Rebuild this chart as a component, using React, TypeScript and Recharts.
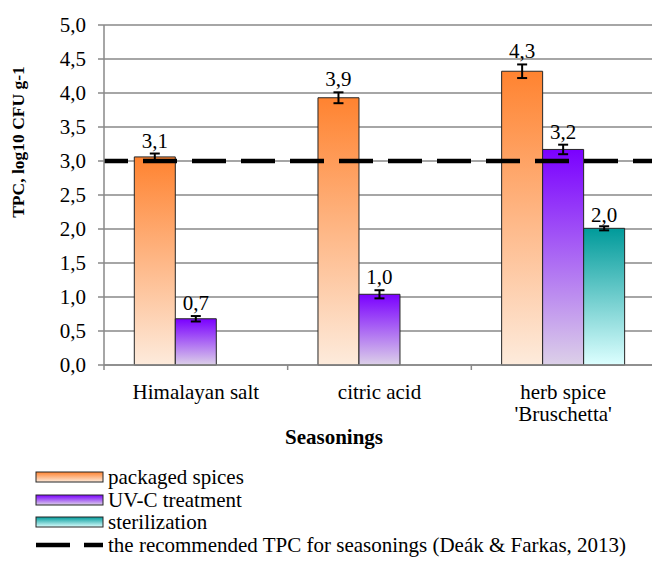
import React from 'react';
import {
  BarChart,
  Bar,
  XAxis,
  YAxis,
  CartesianGrid,
  ReferenceLine,
  ErrorBar,
  LabelList,
  Legend,
} from 'recharts';

// ---------- data ----------
const categories = ['Himalayan salt', 'citric acid', "herb spice\n'Bruschetta'"];
const packagedSpices = [3.06, 3.93, 4.32];
const packagedErr = [0.05, 0.08, 0.1];
const uvcTreatment = [0.68, 1.04, 3.17];
const uvcErr = [0.04, 0.06, 0.07];
const sterilization: (number | null)[] = [null, null, 2.01];
const sterilErr: (number | null)[] = [null, null, 0.03];
const yTicks = [0, 0.5, 1, 1.5, 2, 2.5, 3, 3.5, 4, 4.5, 5];
const yMinorTicks = Array.from({ length: 51 }, (_, i) => i / 10);
const recommendedTPC = 3.0;
const seriesNames = ['packaged spices', 'UV-C treatment', 'sterilization'];
const refName = 'the recommended TPC for seasonings (Deák & Farkas, 2013)';
const yTitle = 'TPC, log10 CFU g-1';
const xTitle = 'Seasonings';

const data = categories.map((c, i) => ({
  name: c,
  packaged: packagedSpices[i],
  packagedErr: packagedErr[i],
  uvc: uvcTreatment[i],
  uvcErr: uvcErr[i],
  steril: sterilization[i],
  sterilErr: sterilErr[i],
}));

// ---------- style / layout ----------
const FONT = "'Liberation Serif', 'Times New Roman', serif";
const W = 655;
const H = 571;
const PLOT_LEFT = 104;
const PLOT_TOP = 25;
const AXIS_Y = 365;
const PLOT_W = W - PLOT_LEFT;
const BAND = PLOT_W / categories.length;
const LEGEND_H = 120;
const XAXIS_H = H - AXIS_Y - LEGEND_H;
const GRAY = '#898989';

const grads = [
  { id: 'gOrange', top: '#FF8330', bottom: '#FDEBDC' },
  { id: 'gPurple', top: '#7A00FF', bottom: '#DCD0E8' },
  { id: 'gTeal', top: '#009A9A', bottom: '#DDFFFF' },
];

const fmt = (v: number) => v.toFixed(1).replace('.', ',');

const makeValueLabel = (errs: (number | null)[]) => (props: any) => {
  const { x, y, width, height, value, index } = props;
  if (value == null) return null;
  const err = errs[index] ?? 0;
  const pxPerUnit = height / value;
  const ty = y - err * pxPerUnit - 6;
  return (
    <text x={x + width / 2} y={ty} textAnchor="middle" fontFamily={FONT} fontSize={21} fill="#000">
      {fmt(value)}
    </text>
  );
};

const XTick = (props: any) => {
  const { x, payload } = props;
  const lines = String(payload.value).split('\n');
  return (
    <g>
      <line x1={x - BAND / 2} x2={x - BAND / 2} y1={AXIS_Y} y2={AXIS_Y + 5} stroke={GRAY} strokeWidth={1.5} />
      <text x={x} y={AXIS_Y} textAnchor="middle" fontFamily={FONT} fontSize={21} fill="#000">
        {lines.map((l, i) => (
          <tspan key={i} x={x} dy={i === 0 ? 34 : 22}>
            {l}
          </tspan>
        ))}
      </text>
    </g>
  );
};

const XTitle = () => (
  <text x={334} y={444} textAnchor="middle" fontFamily={FONT} fontSize={21} fontWeight="bold" fill="#000">
    {xTitle}
  </text>
);

const YTitle = () => (
  <text
    x={24}
    y={142}
    transform="rotate(-90, 24, 142)"
    textAnchor="middle"
    fontFamily={FONT}
    fontSize={17.5}
    fontWeight="bold"
    fill="#000"
  >
    {yTitle}
  </text>
);

const LegendContent = () => {
  const rows = [26, 49, 71, 94];
  return (
    <svg width={W} height={LEGEND_H} style={{ display: 'block' }}>
      <defs>
        {grads.map((g) => (
          <linearGradient key={g.id} id={'lg' + g.id} x1="0" y1="0" x2="0" y2="1">
            <stop offset="0%" stopColor={g.top} />
            <stop offset="100%" stopColor={g.bottom} />
          </linearGradient>
        ))}
      </defs>
      {seriesNames.map((n, i) => (
        <g key={n}>
          <rect x={36} y={rows[i] - 5} width={67} height={10} fill={`url(#lg${grads[i].id})`} stroke="#262626" strokeWidth={1} />
          <text x={108} y={rows[i] + 7} fontFamily={FONT} fontSize={21} fill="#000">
            {n}
          </text>
        </g>
      ))}
      <line x1={36} x2={103} y1={rows[3]} y2={rows[3]} stroke="#000" strokeWidth={4.5} strokeDasharray="34 14" />
      <text x={108} y={rows[3] + 7} fontFamily={FONT} fontSize={21} fill="#000">
        {refName}
      </text>
    </svg>
  );
};

export default function App() {
  return (
    <div style={{ position: 'fixed', left: 0, top: 0, width: 652, height: 571, overflow: 'hidden', background: '#fff' }}>
      <BarChart
        width={W}
        height={H}
        data={data}
        margin={{ top: PLOT_TOP, right: 0, bottom: 0, left: 0 }}
        barCategoryGap="16.5%"
        barGap={0}
        style={{ fontFamily: FONT }}
      >
        <defs>
          {grads.map((g) => (
            <linearGradient key={g.id} id={g.id} x1="0" y1="0" x2="0" y2="1">
              <stop offset="0%" stopColor={g.top} />
              <stop offset="100%" stopColor={g.bottom} />
            </linearGradient>
          ))}
        </defs>
        <CartesianGrid yAxisId="v" vertical={false} stroke={GRAY} strokeWidth={1.5} />
        <XAxis
          dataKey="name"
          height={XAXIS_H}
          interval={0}
          tickSize={0}
          tickMargin={0}
          tickLine={false}
          tick={<XTick />}
          axisLine={{ stroke: GRAY, strokeWidth: 1.5 }}
          label={<XTitle />}
        />
        <YAxis
          yAxisId="m"
          width={0}
          type="number"
          domain={[0, 5]}
          ticks={yMinorTicks}
          interval={0}
          tickSize={4}
          tickLine={{ stroke: GRAY, strokeWidth: 1.2 }}
          axisLine={false}
          tickFormatter={() => ''}
        />
        <YAxis
          yAxisId="v"
          width={PLOT_LEFT}
          type="number"
          domain={[0, 5]}
          ticks={yTicks}
          interval={0}
          tickSize={6}
          tickMargin={12}
          tickLine={{ stroke: GRAY, strokeWidth: 1.5 }}
          axisLine={{ stroke: GRAY, strokeWidth: 1.5 }}
          tickFormatter={fmt}
          tick={{ fill: '#000', fontSize: 21, fontFamily: FONT }}
          label={<YTitle />}
        />
        <Bar yAxisId="v" dataKey="packaged" name={seriesNames[0]} fill="url(#gOrange)" stroke="#262626" strokeWidth={1} isAnimationActive={false}>
          <ErrorBar dataKey="packagedErr" width={5} strokeWidth={2} stroke="#000" direction="y" />
          <LabelList dataKey="packaged" content={makeValueLabel(packagedErr)} />
        </Bar>
        <Bar yAxisId="v" dataKey="uvc" name={seriesNames[1]} fill="url(#gPurple)" stroke="#262626" strokeWidth={1} isAnimationActive={false}>
          <ErrorBar dataKey="uvcErr" width={5} strokeWidth={2} stroke="#000" direction="y" />
          <LabelList dataKey="uvc" content={makeValueLabel(uvcErr)} />
        </Bar>
        <Bar yAxisId="v" dataKey="steril" name={seriesNames[2]} fill="url(#gTeal)" stroke="#262626" strokeWidth={1} isAnimationActive={false}>
          <ErrorBar dataKey="sterilErr" width={5} strokeWidth={2} stroke="#000" direction="y" />
          <LabelList dataKey="steril" content={makeValueLabel(sterilErr)} />
        </Bar>
        <ReferenceLine
          yAxisId="v"
          y={recommendedTPC}
          stroke="#000"
          strokeWidth={4.5}
          strokeDasharray="34 15"
          strokeDashoffset={10}
          ifOverflow="extendDomain"
        />
        <Legend
          verticalAlign="bottom"
          content={<LegendContent />}
          wrapperStyle={{ left: 0, bottom: 0, width: W, height: LEGEND_H }}
        />
      </BarChart>
    </div>
  );
}
